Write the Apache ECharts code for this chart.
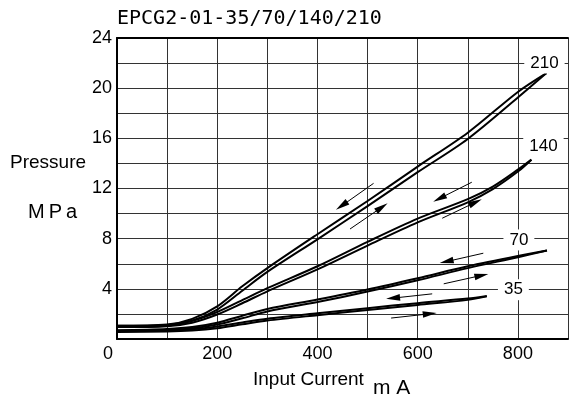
<!DOCTYPE html>
<html><head><meta charset="utf-8">
<script src="https://cdn.jsdelivr.net/npm/echarts@6/dist/echarts.min.js"></script>
<style>html,body{margin:0;padding:0;background:#fff}#c{width:571px;height:403px}</style>
</head><body><div id="c"></div>
<script>
// ---- data (mA, MPa) ----
const p210Down = [[0,1.05],[100,1.15],[150,1.6],[200,2.6],[250,4.2],[300,5.65],[400,8.35],[500,11.0],[600,13.75],[700,16.45],[800,19.7],[857,21.2]];
const p210Up   = [[0,0.95],[100,1.05],[150,1.45],[200,2.35],[250,3.85],[300,5.35],[400,7.95],[500,10.6],[600,13.3],[700,15.95],[800,19.25],[857,21.2]];
const p140Down = [[0,1.05],[100,1.12],[150,1.45],[200,2.15],[250,3.1],[300,4.05],[400,5.8],[500,7.75],[600,9.6],[700,11.15],[750,12.15],[800,13.5],[827,14.3]];
const p140Up   = [[0,0.95],[100,1.02],[150,1.3],[200,1.95],[250,2.85],[300,3.8],[400,5.55],[500,7.45],[600,9.3],[700,10.9],[750,11.95],[800,13.35],[827,14.3]];
const p70Down  = [[0,0.7],[100,0.8],[150,0.95],[200,1.3],[250,1.85],[300,2.4],[400,3.15],[500,3.95],[600,4.85],[700,5.8],[800,6.62],[858,7.05]];
const p70Up    = [[0,0.62],[100,0.7],[150,0.85],[200,1.15],[250,1.65],[300,2.2],[400,2.95],[500,3.78],[600,4.68],[700,5.65],[800,6.52],[858,7.05]];
const p35Down  = [[0,0.65],[100,0.7],[150,0.78],[200,1.0],[250,1.32],[300,1.62],[400,2.05],[500,2.46],[600,2.86],[700,3.22],[738,3.43]];
const p35Up    = [[0,0.55],[100,0.6],[150,0.68],[200,0.86],[250,1.17],[300,1.47],[400,1.9],[500,2.31],[600,2.72],[700,3.12],[738,3.4]];

// arrows: [tailX, tailY, tipX, tipY]
const arrows = [[512,12.41,437,10.3],[465,8.77,540,10.82],[708,12.5,631,10.95],[649,9.63,728,11.14],
                [731,6.84,644,6.05],[652,4.4,741,5.19],[629,3.6,537,3.2],[547,1.67,638,2.07]];

const curveLabels = ['210','140','70','35'];
const curveLabelPos = [[853,22],[851,15.35],[802,7.9],[791,3.93]];

const titleText = 'EPCG2-01-35/70/140/210';
const yName1 = 'Pressure', yName2 = 'M\u2009P\u2009a';
const xName1 = 'Input Current', xName2 = 'm A';

// ---- chart ----
const chart = echarts.init(document.getElementById('c'), null, {renderer:'canvas'});
const FONT = 'Liberation Sans, Arial, sans-serif';
const curves = [p210Down,p210Up,p140Down,p140Up,p70Down,p70Up,p35Down,p35Up];
const series = curves.map(d => ({
  type:'line', data:d, showSymbol:false, smooth:0.3,
  lineStyle:{color:'#000', width:2}, z:3, silent:true
}));
series.push({
  type:'custom', z:4, silent:true,
  data: arrows,
  encode:{x:[0,2], y:[1,3]},
  renderItem:(params, api) => {
    const p1 = api.coord([api.value(0), api.value(1)]);
    const p2 = api.coord([api.value(2), api.value(3)]);
    const dx = p2[0]-p1[0], dy = p2[1]-p1[1];
    const L = Math.hypot(dx,dy), ux = dx/L, uy = dy/L;
    const hl = 14, hw = 3.3;
    const bx = p2[0]-ux*hl, by = p2[1]-uy*hl;
    return {type:'group', children:[
      {type:'line', shape:{x1:p1[0],y1:p1[1],x2:bx+ux*2,y2:by+uy*2}, style:{stroke:'#000', lineWidth:1}},
      {type:'polygon', shape:{points:[[p2[0],p2[1]],[bx-uy*hw,by+ux*hw],[bx+uy*hw,by-ux*hw]]}, style:{fill:'#000'}}
    ]};
  }
});
series.push({
  type:'custom', z:5, silent:true,
  data: curveLabelPos.map((p,i) => [p[0], p[1], i]),
  encode:{x:0, y:1},
  renderItem:(params, api) => {
    const c = api.coord([api.value(0), api.value(1)]);
    return {type:'text', x:c[0], y:c[1], style:{
      text:curveLabels[api.value(2)], fill:'#000', font:'17px "Liberation Sans", Arial, sans-serif',
      align:'center', verticalAlign:'middle', backgroundColor:'#fff', padding:[2,6,2,6]}};
  }
});

chart.setOption({
  animation:false,
  backgroundColor:'#fff',
  grid:{left:117, top:38, width:455, height:301, containLabel:false},
  xAxis:[{
    type:'value', min:0, max:900, interval:100,
    axisLine:{show:true, onZero:false, lineStyle:{color:'#000', width:2}},
    axisTick:{show:false},
    splitLine:{show:true, lineStyle:{color:'#333', width:1}},
    axisLabel:{margin:6, color:'#000', fontFamily:FONT, fontSize:18,
      formatter:v => v===0 ? '{z|0}' : (v%200===0 && v<=800 ? String(v) : ''),
      rich:{z:{padding:[0,18,0,0], fontFamily:FONT, fontSize:18, color:'#000'}}}
  },{
    type:'value', position:'top', min:0, max:900, interval:100,
    axisLine:{show:true, onZero:false, lineStyle:{color:'#000', width:2}},
    axisTick:{show:false}, axisLabel:{show:false}, splitLine:{show:false}
  }],
  yAxis:{
    type:'value', min:0, max:24, interval:2,
    axisLine:{show:true, onZero:false, lineStyle:{color:'#000', width:2}},
    axisTick:{show:false},
    splitLine:{show:true, lineStyle:{color:'#333', width:1}},
    axisLabel:{margin:5, color:'#000', fontFamily:FONT, fontSize:18,
      formatter:v => (v%4===0 && v>0) ? String(v) : ''}
  },
  graphic:[
    {type:'text', left:117, top:9, style:{text:titleText, font:'20px "DejaVu Sans Mono", monospace', fill:'#000'}},
    {type:'text', x:10, y:163, style:{text:yName1, font:'19px "Liberation Sans", Arial, sans-serif', fill:'#000', verticalAlign:'middle'}},
    {type:'text', x:28, y:212, style:{text:yName2, font:'20px "Liberation Sans", Arial, sans-serif', fill:'#000', verticalAlign:'middle'}},
    {type:'text', x:253, y:380, style:{text:xName1, font:'19px "Liberation Sans", Arial, sans-serif', fill:'#000', verticalAlign:'middle'}},
    {type:'text', x:373, y:388, style:{text:xName2, font:'21px "Liberation Sans", Arial, sans-serif', fill:'#000', verticalAlign:'middle'}}
  ],
  series
});
</script></body></html>
